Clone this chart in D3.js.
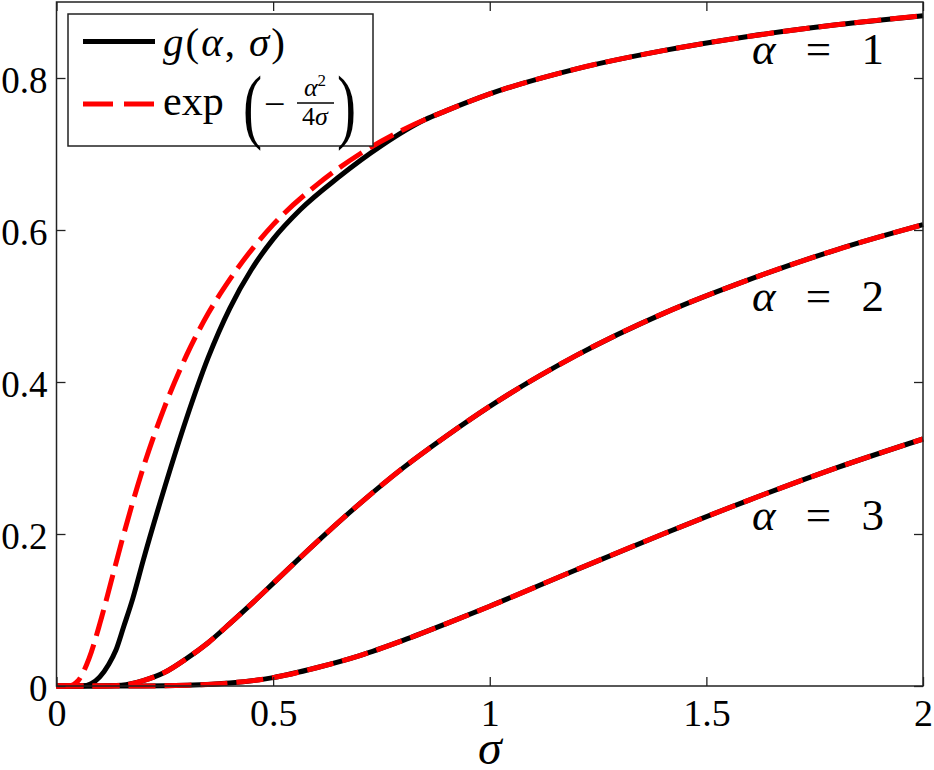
<!DOCTYPE html>
<html>
<head>
<meta charset="utf-8">
<script src="https://cdn.jsdelivr.net/npm/d3@7"></script>
<style>
  body { margin: 0; background: #fff; }
  svg { display: block; }
  text { font-family: "Liberation Serif", "Times New Roman", serif; fill: #000; }
  .it { font-style: italic; }
</style>
</head>
<body>
<svg id="chart" width="934" height="770"></svg>
<script>
//
// Data
//

// alpha = 1
var sigA1 = [0, 0.03, 0.04, 0.05, 0.075, 0.1, 0.125, 0.15, 0.2, 0.25, 0.3, 0.35, 0.4, 0.5, 0.6, 0.7, 0.8, 0.9, 1.0, 1.2, 1.4, 1.6, 1.8, 2.0]
var expA1 = [0, 0.0002, 0.002, 0.007, 0.036, 0.082, 0.135, 0.189, 0.287, 0.368, 0.435, 0.49, 0.535, 0.607, 0.659, 0.7, 0.732, 0.757, 0.779, 0.812, 0.836, 0.855, 0.87, 0.882]
var sigG1 = [0, 0.06, 0.08, 0.1, 0.12, 0.137, 0.155, 0.176, 0.2, 0.25, 0.3, 0.35, 0.4, 0.45, 0.5, 0.563, 0.65, 0.75, 0.85, 0.9, 1.0, 1.2, 1.4, 1.6, 1.8, 2.0]
var gA1 = [0, 0, 0.003, 0.012, 0.028, 0.047, 0.078, 0.115, 0.165, 0.262, 0.352, 0.432, 0.497, 0.548, 0.588, 0.627, 0.669, 0.711, 0.745, 0.757, 0.779, 0.812, 0.836, 0.855, 0.87, 0.882]

// alpha = 2 (g sits on top of the exp curve)
var sigA2 = [0, 0.1, 0.15, 0.2, 0.25, 0.3, 0.35, 0.4, 0.45, 0.5, 0.6, 0.7, 0.8, 0.9, 1.0, 1.2, 1.4, 1.6, 1.8, 2.0]
var expA2 = [0, 0, 0.001, 0.007, 0.018, 0.036, 0.057, 0.082, 0.108, 0.135, 0.189, 0.24, 0.287, 0.329, 0.368, 0.435, 0.49, 0.535, 0.574, 0.607]
var gA2 = expA2

// alpha = 3
var sigA3 = [0, 0.2, 0.3, 0.4, 0.5, 0.6, 0.7, 0.8, 0.9, 1.0, 1.2, 1.4, 1.6, 1.8, 2.0]
var expA3 = [0, 0, 0.001, 0.004, 0.011, 0.024, 0.04, 0.06, 0.082, 0.105, 0.153, 0.2, 0.245, 0.287, 0.325]
var gA3 = expA3

var xTicks = [0, 0.5, 1, 1.5, 2]
var xTickLabels = ['0', '0.5', '1', '1.5', '2']
var yTicks = [0, 0.2, 0.4, 0.6, 0.8]
var yTickLabels = ['0', '0.2', '0.4', '0.6', '0.8']
var curveLabels = ['1', '2', '3']
var labelAt = [0.818, 0.493, 0.205]   // y value at the baseline of each "alpha = n" label

//
// Setup
//

var colorG = '#000'
var colorExp = '#ff0000'
var lineW = 5
var dash = '27,9'

var svg = d3.select('#chart')
var mLeft = 56.5, mRight = 923, mTop = 2, mBottom = 686

var x = d3.scaleLinear().domain([0, 2]).range([mLeft, mRight])
var y = d3.scaleLinear().domain([0, 0.9]).range([mBottom, mTop])

var line = d3.line()
  .x(function(d) { return x(d[0]) })
  .y(function(d) { return y(d[1]) })
  .curve(d3.curveMonotoneX)

function pairs(xs, ys) {
  return xs.map(function(v, i) { return [v, ys[i]] })
}

var plot = svg.append('g')

// black solid curves first
;[[sigG1, gA1], [sigA2, gA2], [sigA3, gA3]].forEach(function(s) {
  plot.append('path')
    .attr('d', line(pairs(s[0], s[1])))
    .attr('fill', 'none')
    .attr('stroke', colorG)
    .attr('stroke-width', lineW)
})

// red dashed curves on top
;[[sigA1, expA1], [sigA2, expA2], [sigA3, expA3]].forEach(function(s) {
  plot.append('path')
    .attr('d', line(pairs(s[0], s[1])))
    .attr('fill', 'none')
    .attr('stroke', colorExp)
    .attr('stroke-width', lineW)
    .attr('stroke-dasharray', dash)
})

//
// Axes
//

var xAxis = svg.append('g')
  .attr('transform', 'translate(0,' + mBottom + ')')
  .call(d3.axisBottom(x).tickValues(xTicks).tickSize(-9).tickSizeOuter(0).tickPadding(13)
    .tickFormat(function(d, i) { return xTickLabels[i] }))
svg.append('g')
  .attr('transform', 'translate(0,' + mTop + ')')
  .call(d3.axisTop(x).tickValues(xTicks).tickSize(-9).tickSizeOuter(0).tickFormat(''))

var yAxis = svg.append('g')
  .attr('transform', 'translate(' + mLeft + ',0)')
  .call(d3.axisLeft(y).tickValues(yTicks).tickSize(-9).tickSizeOuter(0).tickPadding(9)
    .tickFormat(function(d, i) { return yTickLabels[i] }))
svg.append('g')
  .attr('transform', 'translate(' + mRight + ',0)')
  .call(d3.axisRight(y).tickValues(yTicks).tickSize(-9).tickSizeOuter(0).tickFormat(''))

svg.selectAll('.domain').remove()
svg.selectAll('.tick line').attr('stroke', '#222').attr('stroke-width', 1.3)
svg.selectAll('.tick text').attr('fill', '#000')
xAxis.selectAll('.tick text').attr('font-size', 38)
yAxis.selectAll('.tick text').attr('font-size', 37).attr('dy', '0.4em')

svg.append('rect')
  .attr('x', mLeft).attr('y', mTop)
  .attr('width', mRight - mLeft).attr('height', mBottom - mTop)
  .attr('fill', 'none').attr('stroke', '#222').attr('stroke-width', 1.5)

svg.append('text')
  .attr('class', 'it')
  .attr('x', x(1)).attr('y', 764)
  .attr('text-anchor', 'middle')
  .attr('font-size', 48)
  .text('σ')

//
// Curve labels
//

curveLabels.forEach(function(n, i) {
  var t = svg.append('text')
    .attr('x', 752).attr('y', y(labelAt[i]))
    .attr('font-size', 45)
    .attr('textLength', 132)
    .attr('lengthAdjust', 'spacing')
  t.append('tspan').attr('class', 'it').text('α')
  t.append('tspan').text(' = ' + n)
})

//
// Legend
//

var lg = svg.append('g')
lg.append('rect')
  .attr('x', 68).attr('y', 14).attr('width', 305).attr('height', 132)
  .attr('fill', '#fff').attr('stroke', '#222').attr('stroke-width', 1.5)

lg.append('line')
  .attr('x1', 83).attr('x2', 155).attr('y1', 41.5).attr('y2', 41.5)
  .attr('stroke', colorG).attr('stroke-width', lineW)
lg.append('line')
  .attr('x1', 83).attr('x2', 155).attr('y1', 104).attr('y2', 104)
  .attr('stroke', colorExp).attr('stroke-width', lineW)
  .attr('stroke-dasharray', '30,11')

var t1 = lg.append('text').attr('x', 163).attr('y', 56).attr('font-size', 41)
  .attr('textLength', 122).attr('lengthAdjust', 'spacing')
t1.append('tspan').attr('class', 'it').text('g')
t1.append('tspan').text('(')
t1.append('tspan').attr('class', 'it').text('α')
t1.append('tspan').text(', ')
t1.append('tspan').attr('class', 'it').text('σ')
t1.append('tspan').text(')')

lg.append('text').attr('x', 163).attr('y', 115).attr('font-size', 42).text('exp')
lg.append('text').attr('x', 243).attr('y', 133).attr('font-size', 82)
  .attr('transform', 'translate(243,0) scale(0.7,1) translate(-243,0)').text('(')
lg.append('text').attr('x', 264).attr('y', 117).attr('font-size', 38).text('−')
var num = lg.append('text').attr('x', 315).attr('y', 96).attr('font-size', 26).attr('text-anchor', 'middle')
num.append('tspan').attr('class', 'it').text('α')
num.append('tspan').attr('font-size', 17).attr('dy', -10).text('2')
lg.append('line').attr('x1', 297).attr('x2', 334).attr('y1', 103).attr('y2', 103)
  .attr('stroke', '#000').attr('stroke-width', 1.3)
var den = lg.append('text').attr('x', 315).attr('y', 125).attr('font-size', 26).attr('text-anchor', 'middle')
den.append('tspan').text('4')
den.append('tspan').attr('class', 'it').text('σ')
lg.append('text').attr('x', 337).attr('y', 133).attr('font-size', 82)
  .attr('transform', 'translate(337,0) scale(0.7,1) translate(-337,0)').text(')')
</script>
</body>
</html>
